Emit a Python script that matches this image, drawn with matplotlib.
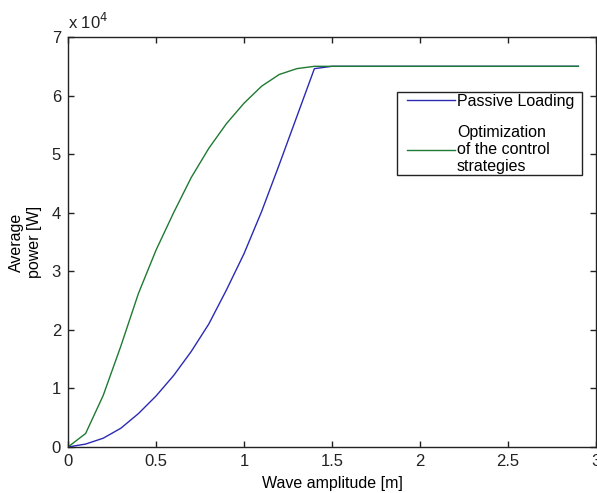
import numpy as np
import matplotlib.pyplot as plt
from matplotlib.patches import Rectangle
from matplotlib.ticker import FuncFormatter

plt.rcParams['font.family'] = ['Liberation Sans', 'DejaVu Sans']

# wave amplitude [m]
amplitude = [0.0, 0.1, 0.2, 0.3, 0.4, 0.5, 0.6, 0.7, 0.8, 0.9, 1.0, 1.1, 1.2, 1.3, 1.4,
             1.5, 1.6, 1.7, 1.8, 1.9, 2.0, 2.1, 2.2, 2.3, 2.4, 2.5, 2.6, 2.7, 2.8, 2.9]

# average power [W]
passive = [0, 500, 1500, 3200, 5700, 8700, 12200, 16300, 21000, 26800, 33000, 40200,
           48200, 56400, 64600, 65000, 65000, 65000, 65000, 65000, 65000, 65000, 65000,
           65000, 65000, 65000, 65000, 65000, 65000, 65000]
optimized = [0, 2300, 8800, 17200, 26200, 33600, 40000, 46000, 51000, 55200, 58700,
             61600, 63600, 64600, 65000, 65000, 65000, 65000, 65000, 65000, 65000, 65000,
             65000, 65000, 65000, 65000, 65000, 65000, 65000, 65000]

fig = plt.figure(figsize=(5.97, 4.93), dpi=100)
ax = fig.add_axes([0.1139, 0.0933, 0.8844, 0.8316])

ax.plot(amplitude, passive, color='#2a2ab4', lw=1.0, label='Passive Loading')
ax.plot(amplitude, optimized, color='#1e7a32', lw=1.0,
        label='Optimization\nof the control\nstrategies')

ax.set_xlim(0, 3)
ax.set_ylim(0, 70000)
ax.set_xticks(np.arange(0, 3.01, 0.5))
ax.set_xticklabels(['0', '0.5', '1', '1.5', '2', '2.5', '3'])
ax.set_yticks(np.arange(0, 70001, 10000))
ax.yaxis.set_major_formatter(FuncFormatter(lambda v, p: '%d' % round(v / 1e4)))
ax.tick_params(direction='in', length=4, width=1, top=True, right=True,
               labelsize=12, pad=5, colors='#222222')
for s in ax.spines.values():
    s.set_linewidth(1.0)
    s.set_color('#222222')

ax.text(0.0, 1.012, r'x 10$^4$', transform=ax.transAxes, fontsize=12,
        ha='left', va='bottom', color='#222222')

ax.set_xlabel('Wave amplitude [m]', fontsize=11.5, labelpad=5)
ax.set_ylabel('Average\npower [W]', fontsize=11.5, labelpad=7, linespacing=1.25)

# legend entries without a frame, box drawn separately
leg = ax.legend(loc='upper left', bbox_to_anchor=(0.642, 0.862), fontsize=11.5,
                frameon=False, handlelength=3.0, handletextpad=0.12,
                borderpad=0, labelspacing=1.0, borderaxespad=0)
for t in leg.get_texts():
    t.set_linespacing(1.2)
ax.add_patch(Rectangle((0.623, 0.663), 0.350, 0.203, transform=ax.transAxes,
                       facecolor='white', edgecolor='#222222', lw=1.0, zorder=4))
leg.set_zorder(5)

fig.savefig('out.png', dpi=100)
